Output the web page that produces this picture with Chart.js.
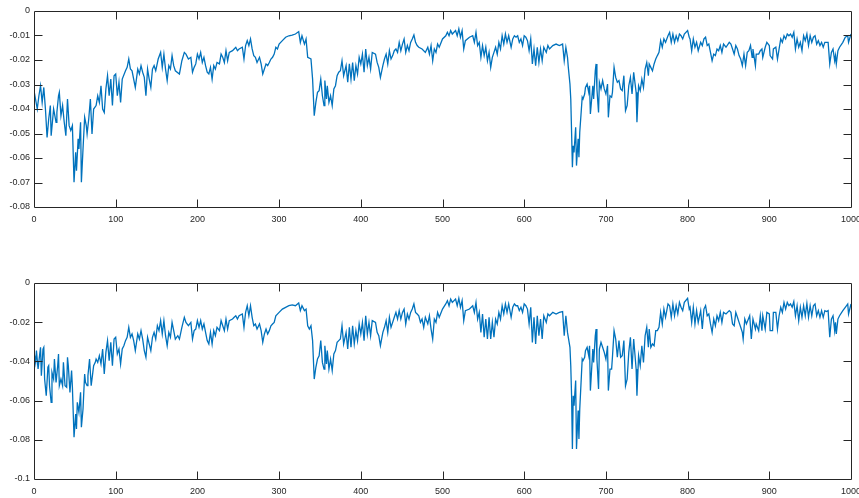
<!DOCTYPE html>
<html>
<head>
<meta charset="utf-8">
<title>Two-panel signal plot</title>
<script src="https://cdn.jsdelivr.net/npm/chart.js@4/dist/chart.umd.min.js"></script>
<style>
  html, body { margin: 0; padding: 0; background: #ffffff; overflow: hidden; width: 859px; height: 498px; }
  .panel { position: absolute; left: 0; width: 880px; height: 249px; }
  #panelTop { top: 0; }
  #panelBottom { top: 272px; }
</style>
</head>
<body>
<div class="panel" id="panelTop"><canvas id="chartTop" width="880" height="249"></canvas></div>
<div class="panel" id="panelBottom"><canvas id="chartBottom" width="880" height="249"></canvas></div>
<script>
// ---- Upper panel series ----
const xTop = [
  0,4,6,8,10,12,14,16,18,20,
  21,24,27,28,30,31,33,35,37,39,
  41,43,45,47,49,51,52,54,55,57,
  58,60,62,64,65,67,69,71,73,76,
  78,80,82,84,86,88,90,92,94,96,
  98,100,102,104,106,108,112,114,116,118,
  120,124,127,129,131,133,135,137,139,141,
  143,145,147,149,152,155,157,159,161,163,
  165,167,169,171,173,178,181,184,186,189,
  192,194,196,198,200,202,204,206,208,210,
  212,214,216,218,220,222,224,227,229,231,
  233,235,237,239,243,245,247,249,251,255,
  257,259,261,263,265,267,269,271,273,276,
  278,280,282,284,286,288,290,292,294,296,
  298,300,304,308,312,316,320,324,326,328,
  331,333,335,339,341,343,345,347,349,351,
  353,355,356,358,359,361,363,365,367,369,
  371,373,375,377,379,382,384,386,388,390,
  392,394,396,398,400,402,404,406,408,410,
  412,414,418,420,422,424,427,429,431,433,
  435,437,439,441,443,445,447,449,451,453,
  455,457,459,461,463,465,467,469,471,475,
  479,482,484,486,488,490,492,494,496,500,
  504,506,508,510,512,516,518,520,522,524,
  526,528,533,537,539,541,543,545,547,549,
  551,553,555,557,559,561,563,565,567,569,
  571,573,575,577,579,581,584,586,588,590,
  592,594,596,598,600,602,604,606,608,610,
  612,614,616,618,620,622,624,627,629,631,
  635,639,643,647,649,651,653,654,656,657,
  658,659,660,661,663,664,666,667,668,670,
  671,672,674,675,677,679,680,681,684,685,
  687,688,689,691,692,694,696,698,700,702,
  703,705,707,708,710,712,714,716,718,720,
  722,724,726,728,730,732,734,737,738,740,
  742,744,746,748,750,752,753,755,757,759,
  761,763,765,767,769,771,773,776,778,780,
  782,784,786,788,790,792,794,796,800,802,
  803,805,807,809,811,813,816,818,820,822,
  824,826,828,830,832,834,836,838,840,842,
  844,847,851,853,855,857,859,861,863,865,
  867,869,871,873,875,877,879,880,883,884,
  887,889,891,892,895,897,900,901,904,905,
  908,910,912,914,916,918,920,922,924,926,
  928,930,932,934,936,938,940,942,944,946,
  948,950,952,954,956,958,960,962,964,966,
  968,970,972,974,976,978,980,981,982,984,
  986,990,993,996,997,1000
];
const yTop = [
  -0.0325,-0.0400,-0.0346,-0.0305,-0.0373,-0.0312,-0.0400,-0.0516,-0.0441,-0.0386,
  -0.0509,-0.0400,-0.0454,-0.0414,-0.0346,-0.0332,-0.0427,-0.0386,-0.0454,-0.0509,
  -0.0359,-0.0468,-0.0488,-0.0468,-0.0699,-0.0577,-0.0652,-0.0522,-0.0563,-0.0454,
  -0.0699,-0.0563,-0.0434,-0.0468,-0.0502,-0.0441,-0.0359,-0.0502,-0.0400,-0.0386,
  -0.0346,-0.0373,-0.0305,-0.0400,-0.0414,-0.0318,-0.0264,-0.0346,-0.0278,-0.0386,
  -0.0264,-0.0257,-0.0346,-0.0291,-0.0373,-0.0278,-0.0244,-0.0230,-0.0196,-0.0237,
  -0.0244,-0.0312,-0.0237,-0.0257,-0.0223,-0.0250,-0.0271,-0.0346,-0.0237,-0.0278,
  -0.0312,-0.0237,-0.0223,-0.0244,-0.0196,-0.0169,-0.0230,-0.0176,-0.0237,-0.0284,
  -0.0223,-0.0237,-0.0182,-0.0223,-0.0244,-0.0257,-0.0203,-0.0169,-0.0176,-0.0196,
  -0.0189,-0.0250,-0.0230,-0.0216,-0.0176,-0.0196,-0.0169,-0.0210,-0.0189,-0.0223,
  -0.0250,-0.0257,-0.0230,-0.0278,-0.0223,-0.0237,-0.0210,-0.0216,-0.0176,-0.0189,
  -0.0210,-0.0162,-0.0203,-0.0169,-0.0162,-0.0155,-0.0148,-0.0162,-0.0155,-0.0148,
  -0.0196,-0.0141,-0.0121,-0.0141,-0.0114,-0.0155,-0.0182,-0.0189,-0.0210,-0.0189,
  -0.0216,-0.0257,-0.0237,-0.0216,-0.0223,-0.0210,-0.0196,-0.0189,-0.0176,-0.0148,
  -0.0155,-0.0135,-0.0121,-0.0107,-0.0101,-0.0098,-0.0094,-0.0084,-0.0128,-0.0101,
  -0.0135,-0.0114,-0.0189,-0.0196,-0.0278,-0.0427,-0.0373,-0.0332,-0.0325,-0.0278,
  -0.0346,-0.0386,-0.0284,-0.0359,-0.0305,-0.0373,-0.0346,-0.0386,-0.0318,-0.0305,
  -0.0264,-0.0250,-0.0244,-0.0203,-0.0264,-0.0223,-0.0291,-0.0216,-0.0278,-0.0210,
  -0.0284,-0.0223,-0.0257,-0.0189,-0.0216,-0.0176,-0.0250,-0.0155,-0.0223,-0.0189,
  -0.0237,-0.0169,-0.0176,-0.0210,-0.0230,-0.0271,-0.0223,-0.0196,-0.0176,-0.0216,
  -0.0162,-0.0196,-0.0182,-0.0162,-0.0155,-0.0169,-0.0128,-0.0162,-0.0135,-0.0114,
  -0.0169,-0.0141,-0.0162,-0.0128,-0.0114,-0.0098,-0.0128,-0.0141,-0.0148,-0.0155,
  -0.0169,-0.0148,-0.0176,-0.0141,-0.0203,-0.0155,-0.0169,-0.0135,-0.0148,-0.0114,
  -0.0101,-0.0087,-0.0101,-0.0080,-0.0094,-0.0080,-0.0101,-0.0073,-0.0107,-0.0080,
  -0.0155,-0.0121,-0.0107,-0.0101,-0.0128,-0.0087,-0.0141,-0.0128,-0.0189,-0.0141,
  -0.0182,-0.0148,-0.0203,-0.0169,-0.0230,-0.0189,-0.0169,-0.0148,-0.0176,-0.0128,
  -0.0155,-0.0101,-0.0135,-0.0094,-0.0128,-0.0101,-0.0148,-0.0114,-0.0101,-0.0107,
  -0.0101,-0.0128,-0.0114,-0.0141,-0.0101,-0.0107,-0.0121,-0.0162,-0.0114,-0.0216,
  -0.0155,-0.0223,-0.0148,-0.0210,-0.0155,-0.0203,-0.0148,-0.0169,-0.0141,-0.0155,
  -0.0141,-0.0135,-0.0141,-0.0135,-0.0203,-0.0148,-0.0189,-0.0230,-0.0298,-0.0359,
  -0.0495,-0.0638,-0.0550,-0.0577,-0.0475,-0.0631,-0.0522,-0.0597,-0.0495,-0.0400,
  -0.0352,-0.0359,-0.0339,-0.0312,-0.0298,-0.0332,-0.0305,-0.0420,-0.0305,-0.0359,
  -0.0244,-0.0216,-0.0318,-0.0414,-0.0291,-0.0318,-0.0284,-0.0318,-0.0339,-0.0298,
  -0.0434,-0.0346,-0.0352,-0.0332,-0.0230,-0.0271,-0.0291,-0.0284,-0.0318,-0.0325,
  -0.0264,-0.0407,-0.0386,-0.0305,-0.0271,-0.0339,-0.0250,-0.0332,-0.0454,-0.0305,
  -0.0325,-0.0278,-0.0312,-0.0237,-0.0210,-0.0264,-0.0216,-0.0230,-0.0244,-0.0216,
  -0.0196,-0.0182,-0.0169,-0.0121,-0.0148,-0.0114,-0.0128,-0.0101,-0.0087,-0.0128,
  -0.0094,-0.0128,-0.0101,-0.0121,-0.0094,-0.0101,-0.0114,-0.0094,-0.0080,-0.0107,
  -0.0114,-0.0162,-0.0114,-0.0148,-0.0128,-0.0162,-0.0128,-0.0141,-0.0114,-0.0107,
  -0.0141,-0.0135,-0.0169,-0.0203,-0.0176,-0.0182,-0.0155,-0.0162,-0.0141,-0.0169,
  -0.0135,-0.0148,-0.0128,-0.0135,-0.0155,-0.0176,-0.0141,-0.0155,-0.0182,-0.0196,
  -0.0223,-0.0176,-0.0223,-0.0169,-0.0162,-0.0141,-0.0189,-0.0155,-0.0223,-0.0176,
  -0.0176,-0.0162,-0.0155,-0.0189,-0.0148,-0.0128,-0.0141,-0.0182,-0.0196,-0.0155,
  -0.0148,-0.0196,-0.0155,-0.0114,-0.0128,-0.0101,-0.0114,-0.0094,-0.0101,-0.0094,
  -0.0107,-0.0087,-0.0155,-0.0114,-0.0148,-0.0128,-0.0162,-0.0101,-0.0121,-0.0094,
  -0.0141,-0.0101,-0.0128,-0.0107,-0.0101,-0.0135,-0.0121,-0.0141,-0.0128,-0.0148,
  -0.0128,-0.0128,-0.0128,-0.0216,-0.0169,-0.0155,-0.0203,-0.0182,-0.0216,-0.0162,
  -0.0148,-0.0128,-0.0107,-0.0101,-0.0128,-0.0094
];

// ---- Lower panel series ----
const xBottom = [
  0,2,3,5,7,8,9,11,12,13,
  15,17,18,19,21,22,24,25,27,29,
  30,31,33,35,36,38,40,41,42,44,
  46,47,49,51,52,53,55,57,58,60,
  62,63,65,66,68,70,72,73,75,76,
  78,80,82,84,86,88,90,92,94,96,
  98,100,102,104,106,108,110,112,114,116,
  118,120,122,124,127,129,131,133,135,137,
  139,141,143,145,147,149,151,153,155,157,
  159,161,163,165,167,169,171,173,176,178,
  181,184,186,189,192,194,196,198,200,202,
  204,206,208,210,212,214,216,218,220,222,
  224,227,229,231,233,235,237,239,243,245,
  247,249,251,255,257,259,261,263,265,267,
  269,271,273,276,278,280,282,284,286,288,
  290,292,294,296,300,304,308,312,316,320,
  324,326,328,331,333,335,337,339,341,343,
  345,347,349,351,353,355,356,358,359,361,
  363,365,367,369,371,373,375,377,379,382,
  384,386,388,390,392,394,396,398,400,402,
  404,406,408,410,412,414,418,420,422,424,
  427,429,431,433,435,437,439,441,443,445,
  447,449,451,453,455,457,459,461,463,465,
  467,469,471,473,475,477,479,482,484,486,
  488,490,492,494,496,500,504,506,508,510,
  512,516,518,520,522,524,526,528,533,537,
  539,541,543,545,547,549,551,553,555,557,
  559,561,563,565,567,569,571,573,575,577,
  579,581,584,586,588,590,592,594,596,598,
  600,602,604,606,608,610,612,614,616,618,
  620,622,624,627,629,631,635,639,643,647,
  649,651,653,654,656,657,658,659,660,661,
  663,664,666,667,668,670,671,672,674,675,
  677,679,680,681,684,685,687,688,689,691,
  692,694,696,698,700,702,703,705,707,708,
  710,712,714,716,718,720,722,724,726,728,
  730,732,734,737,738,740,742,744,746,748,
  750,752,753,755,757,759,761,763,765,767,
  769,771,773,776,778,780,782,784,786,788,
  790,792,794,796,800,802,803,805,807,809,
  811,813,816,818,820,822,824,826,828,830,
  832,834,836,838,840,842,844,847,851,853,
  855,857,859,861,863,865,867,868,870,872,
  876,878,880,883,884,887,889,891,892,895,
  897,900,901,904,905,908,910,912,914,916,
  918,920,922,924,926,928,930,932,934,936,
  938,940,942,944,946,948,950,952,954,956,
  958,960,962,964,966,968,970,972,974,976,
  978,980,981,982,984,986,990,993,996,997,
  1000
];
const yBottom = [
  -0.0354,-0.0405,-0.0345,-0.0439,-0.0362,-0.0328,-0.0473,-0.0337,-0.0328,-0.0490,
  -0.0575,-0.0430,-0.0422,-0.0524,-0.0609,-0.0456,-0.0490,-0.0388,-0.0507,-0.0422,
  -0.0362,-0.0524,-0.0490,-0.0524,-0.0405,-0.0524,-0.0532,-0.0379,-0.0422,-0.0558,
  -0.0447,-0.0532,-0.0787,-0.0668,-0.0745,-0.0609,-0.0660,-0.0558,-0.0736,-0.0643,
  -0.0464,-0.0507,-0.0524,-0.0473,-0.0388,-0.0524,-0.0456,-0.0422,-0.0405,-0.0388,
  -0.0405,-0.0371,-0.0413,-0.0337,-0.0464,-0.0354,-0.0294,-0.0396,-0.0303,-0.0422,
  -0.0286,-0.0277,-0.0362,-0.0337,-0.0413,-0.0337,-0.0320,-0.0294,-0.0277,-0.0226,
  -0.0277,-0.0260,-0.0294,-0.0345,-0.0260,-0.0286,-0.0243,-0.0286,-0.0345,-0.0379,
  -0.0277,-0.0311,-0.0345,-0.0277,-0.0252,-0.0286,-0.0218,-0.0243,-0.0192,-0.0260,
  -0.0192,-0.0269,-0.0320,-0.0252,-0.0277,-0.0201,-0.0243,-0.0286,-0.0269,-0.0286,
  -0.0226,-0.0175,-0.0201,-0.0218,-0.0201,-0.0286,-0.0243,-0.0235,-0.0192,-0.0226,
  -0.0192,-0.0235,-0.0209,-0.0252,-0.0294,-0.0311,-0.0252,-0.0311,-0.0243,-0.0269,
  -0.0226,-0.0243,-0.0192,-0.0218,-0.0243,-0.0184,-0.0235,-0.0192,-0.0184,-0.0175,
  -0.0167,-0.0184,-0.0167,-0.0158,-0.0226,-0.0150,-0.0116,-0.0167,-0.0116,-0.0175,
  -0.0218,-0.0209,-0.0235,-0.0209,-0.0243,-0.0303,-0.0260,-0.0235,-0.0260,-0.0243,
  -0.0218,-0.0209,-0.0201,-0.0167,-0.0150,-0.0133,-0.0124,-0.0116,-0.0112,-0.0116,
  -0.0102,-0.0141,-0.0116,-0.0141,-0.0133,-0.0218,-0.0235,-0.0218,-0.0294,-0.0490,
  -0.0430,-0.0388,-0.0371,-0.0294,-0.0405,-0.0439,-0.0320,-0.0413,-0.0345,-0.0439,
  -0.0388,-0.0447,-0.0362,-0.0345,-0.0303,-0.0294,-0.0286,-0.0218,-0.0311,-0.0252,
  -0.0337,-0.0226,-0.0328,-0.0218,-0.0311,-0.0243,-0.0294,-0.0209,-0.0260,-0.0201,
  -0.0294,-0.0167,-0.0260,-0.0201,-0.0269,-0.0192,-0.0201,-0.0252,-0.0269,-0.0320,
  -0.0252,-0.0226,-0.0192,-0.0252,-0.0175,-0.0226,-0.0201,-0.0175,-0.0150,-0.0184,
  -0.0141,-0.0184,-0.0150,-0.0133,-0.0209,-0.0158,-0.0184,-0.0150,-0.0133,-0.0107,
  -0.0150,-0.0158,-0.0167,-0.0201,-0.0184,-0.0226,-0.0175,-0.0209,-0.0167,-0.0235,
  -0.0286,-0.0184,-0.0201,-0.0150,-0.0175,-0.0133,-0.0107,-0.0090,-0.0116,-0.0082,
  -0.0099,-0.0082,-0.0116,-0.0078,-0.0124,-0.0090,-0.0192,-0.0141,-0.0133,-0.0116,
  -0.0150,-0.0099,-0.0184,-0.0150,-0.0252,-0.0158,-0.0277,-0.0184,-0.0286,-0.0175,
  -0.0286,-0.0201,-0.0277,-0.0184,-0.0209,-0.0150,-0.0184,-0.0116,-0.0158,-0.0107,
  -0.0150,-0.0107,-0.0175,-0.0124,-0.0107,-0.0116,-0.0116,-0.0141,-0.0124,-0.0150,
  -0.0107,-0.0116,-0.0133,-0.0209,-0.0124,-0.0303,-0.0175,-0.0311,-0.0167,-0.0269,
  -0.0184,-0.0286,-0.0167,-0.0201,-0.0158,-0.0167,-0.0150,-0.0158,-0.0150,-0.0146,
  -0.0269,-0.0167,-0.0252,-0.0277,-0.0328,-0.0422,-0.0575,-0.0847,-0.0575,-0.0626,
  -0.0498,-0.0847,-0.0651,-0.0796,-0.0643,-0.0473,-0.0388,-0.0396,-0.0379,-0.0345,
  -0.0328,-0.0371,-0.0320,-0.0549,-0.0337,-0.0405,-0.0269,-0.0235,-0.0388,-0.0541,
  -0.0337,-0.0303,-0.0328,-0.0354,-0.0388,-0.0320,-0.0549,-0.0439,-0.0439,-0.0379,
  -0.0243,-0.0286,-0.0379,-0.0294,-0.0379,-0.0371,-0.0294,-0.0524,-0.0490,-0.0354,
  -0.0277,-0.0439,-0.0286,-0.0439,-0.0575,-0.0371,-0.0422,-0.0320,-0.0405,-0.0269,
  -0.0226,-0.0328,-0.0235,-0.0328,-0.0311,-0.0320,-0.0243,-0.0243,-0.0226,-0.0150,
  -0.0209,-0.0133,-0.0175,-0.0107,-0.0116,-0.0175,-0.0107,-0.0167,-0.0116,-0.0158,
  -0.0099,-0.0124,-0.0141,-0.0099,-0.0078,-0.0133,-0.0124,-0.0201,-0.0124,-0.0209,
  -0.0141,-0.0201,-0.0141,-0.0235,-0.0133,-0.0116,-0.0167,-0.0158,-0.0209,-0.0252,
  -0.0184,-0.0218,-0.0167,-0.0192,-0.0150,-0.0201,-0.0150,-0.0158,-0.0141,-0.0150,
  -0.0209,-0.0218,-0.0150,-0.0175,-0.0201,-0.0226,-0.0252,-0.0286,-0.0184,-0.0209,
  -0.0167,-0.0286,-0.0184,-0.0235,-0.0209,-0.0243,-0.0167,-0.0243,-0.0167,-0.0235,
  -0.0150,-0.0158,-0.0243,-0.0243,-0.0150,-0.0150,-0.0235,-0.0167,-0.0124,-0.0150,
  -0.0099,-0.0133,-0.0099,-0.0116,-0.0107,-0.0124,-0.0095,-0.0167,-0.0116,-0.0192,
  -0.0124,-0.0175,-0.0116,-0.0167,-0.0104,-0.0175,-0.0116,-0.0167,-0.0116,-0.0107,
  -0.0167,-0.0141,-0.0175,-0.0141,-0.0175,-0.0141,-0.0146,-0.0141,-0.0277,-0.0184,
  -0.0167,-0.0243,-0.0201,-0.0260,-0.0184,-0.0167,-0.0141,-0.0124,-0.0107,-0.0158,
  -0.0107
];

// ---- Axis ticks ----
const xTickValues = [0, 100, 200, 300, 400, 500, 600, 700, 800, 900, 1000];
const xTickLabels = ['0', '100', '200', '300', '400', '500', '600', '700', '800', '900', '1000'];
const yTickValuesTop = [0, -0.01, -0.02, -0.03, -0.04, -0.05, -0.06, -0.07, -0.08];
const yTickLabelsTop = ['0', '-0.01', '-0.02', '-0.03', '-0.04', '-0.05', '-0.06', '-0.07', '-0.08'];
const yTickValuesBottom = [0, -0.02, -0.04, -0.06, -0.08, -0.1];
const yTickLabelsBottom = ['0', '-0.02', '-0.04', '-0.06', '-0.08', '-0.1'];

const LINE_COLOR = '#0072BD';
const AXIS_COLOR = '#262626';
const FONT_FAMILY = '"Liberation Sans", Arial, Helvetica, sans-serif';
const TICK_LEN = 8;

function toPoints(xs, ys) {
  const n = Math.min(xs.length, ys.length);
  const pts = [];
  for (let i = 0; i < n; i++) pts.push({ x: xs[i], y: ys[i] });
  return pts;
}

// Box outline plus inward-pointing tick marks on all four sides.
const boxAxesPlugin = {
  id: 'boxAxes',
  afterDatasetsDraw(chart) {
    const { ctx, chartArea: a, scales } = chart;
    const L = a.left + 0.5, R = a.right + 0.5, T = a.top + 0.5, B = a.bottom + 0.5;
    ctx.save();
    ctx.strokeStyle = AXIS_COLOR;
    ctx.lineWidth = 1;
    ctx.beginPath();
    ctx.rect(L, T, R - L, B - T);
    scales.x.ticks.forEach(t => {
      const px = Math.round(scales.x.getPixelForValue(t.value)) + 0.5;
      if (px <= L + 1 || px >= R - 1) return;
      ctx.moveTo(px, B); ctx.lineTo(px, B - TICK_LEN);
      ctx.moveTo(px, T); ctx.lineTo(px, T + TICK_LEN);
    });
    scales.y.ticks.forEach(t => {
      const py = Math.round(scales.y.getPixelForValue(t.value)) + 0.5;
      if (py <= T + 1 || py >= B - 1) return;
      ctx.moveTo(L, py); ctx.lineTo(L + TICK_LEN, py);
      ctx.moveTo(R, py); ctx.lineTo(R - TICK_LEN, py);
    });
    ctx.stroke();
    ctx.restore();
  }
};

function makePanel(canvasId, xs, ys, yMin, yValues, yLabels) {
  return new Chart(document.getElementById(canvasId), {
    type: 'line',
    data: {
      datasets: [{
        data: toPoints(xs, ys),
        borderColor: LINE_COLOR,
        borderWidth: 1.3,
        pointRadius: 0,
        tension: 0,
        fill: false
      }]
    },
    options: {
      responsive: false,
      animation: false,
      events: [],
      layout: { padding: { left: 0, top: 11, right: 29, bottom: 0 } },
      plugins: { legend: { display: false }, tooltip: { enabled: false } },
      scales: {
        x: {
          type: 'linear',
          min: 0,
          max: 1000,
          afterBuildTicks: s => { s.ticks = xTickValues.map(v => ({ value: v })); },
          afterFit: s => { s.height = 42; },
          grid: { display: false, drawTicks: false },
          border: { display: false },
          ticks: {
            padding: 7,
            maxRotation: 0,
            autoSkip: false,
            color: AXIS_COLOR,
            font: { family: FONT_FAMILY, size: 9 },
            callback: v => xTickLabels[xTickValues.indexOf(v)]
          }
        },
        y: {
          type: 'linear',
          min: yMin,
          max: 0,
          afterBuildTicks: s => { s.ticks = yValues.map(v => ({ value: v })); },
          afterFit: s => { s.width = 34; },
          grid: { display: false, drawTicks: false },
          border: { display: false },
          ticks: {
            padding: 4,
            autoSkip: false,
            color: AXIS_COLOR,
            font: { family: FONT_FAMILY, size: 9 },
            callback: v => yLabels[yValues.indexOf(v)]
          }
        }
      }
    },
    plugins: [boxAxesPlugin]
  });
}

makePanel('chartTop', xTop, yTop, -0.08, yTickValuesTop, yTickLabelsTop);
makePanel('chartBottom', xBottom, yBottom, -0.1, yTickValuesBottom, yTickLabelsBottom);
</script>
</body>
</html>
